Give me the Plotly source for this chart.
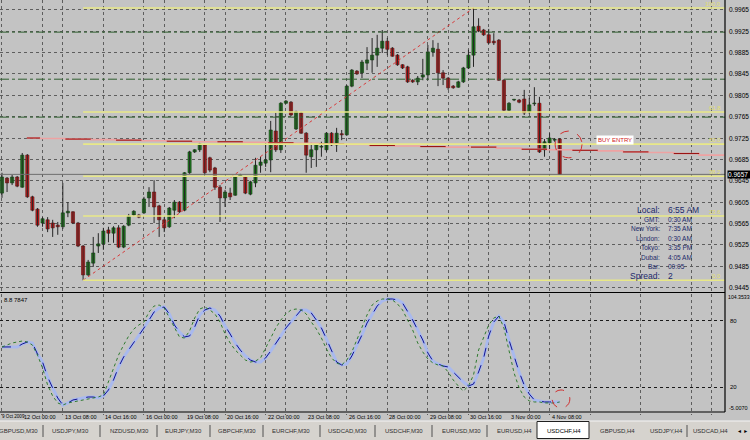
import plotly.graph_objects as go

# ---------------- data (H4 candles, index 0..110) ----------------
opens = [0.9622, 0.9650, 0.9641, 0.9652, 0.9633, 0.9693, 0.9615, 0.9592, 0.9566, 0.9572,
         0.9566, 0.9562, 0.9559, 0.9585, 0.9587, 0.9566, 0.9523, 0.9469, 0.9491, 0.9523,
         0.9527, 0.9553, 0.9547, 0.9557, 0.9521, 0.9562, 0.9581, 0.9581, 0.9585, 0.9613,
         0.9624, 0.9598, 0.9572, 0.9559, 0.9590, 0.9605, 0.9590, 0.9660, 0.9699, 0.9703,
         0.9712, 0.9688, 0.9669, 0.9633, 0.9613, 0.9622, 0.9618, 0.9654, 0.9652, 0.9620,
         0.9641, 0.9674, 0.9678, 0.9684, 0.9738, 0.9703, 0.9790, 0.9792, 0.9742, 0.9772,
         0.9734, 0.9690, 0.9703, 0.9708, 0.9703, 0.9734, 0.9712, 0.9733, 0.9731, 0.9822,
         0.9850, 0.9847, 0.9865, 0.9871, 0.9880, 0.9893, 0.9906, 0.9893, 0.9880, 0.9862,
         0.9858, 0.9833, 0.9830, 0.9839, 0.9843, 0.9886, 0.9891, 0.9847, 0.9837, 0.9822,
         0.9820, 0.9830, 0.9856, 0.9880, 0.9934, 0.9927, 0.9918, 0.9906, 0.9908, 0.9833,
         0.9777, 0.9796, 0.9796, 0.9798, 0.9774, 0.9789, 0.9790, 0.9703, 0.9716, 0.9721,
         0.9723]
highs = [0.9660, 0.9652, 0.9656, 0.9654, 0.9697, 0.9695, 0.9617, 0.9594, 0.9577, 0.9577,
         0.9572, 0.9568, 0.9641, 0.9605, 0.9588, 0.9568, 0.9525, 0.9497, 0.9540, 0.9547,
         0.9557, 0.9559, 0.9560, 0.9562, 0.9562, 0.9583, 0.9590, 0.9583, 0.9615, 0.9633,
         0.9646, 0.9600, 0.9577, 0.9596, 0.9609, 0.9607, 0.9661, 0.9701, 0.9704, 0.9716,
         0.9714, 0.9690, 0.9671, 0.9637, 0.9628, 0.9632, 0.9654, 0.9658, 0.9654, 0.9645,
         0.9688, 0.9690, 0.9716, 0.9757, 0.9772, 0.9792, 0.9796, 0.9794, 0.9776, 0.9774,
         0.9736, 0.9716, 0.9714, 0.9718, 0.9736, 0.9736, 0.9744, 0.9740, 0.9824, 0.9854,
         0.9852, 0.9871, 0.9895, 0.9912, 0.9918, 0.9927, 0.9912, 0.9895, 0.9882, 0.9863,
         0.9860, 0.9835, 0.9841, 0.9873, 0.9899, 0.9908, 0.9903, 0.9852, 0.9839, 0.9824,
         0.9832, 0.9858, 0.9890, 0.9968, 0.9949, 0.9929, 0.9929, 0.9921, 0.9910, 0.9835,
         0.9792, 0.9798, 0.9798, 0.9815, 0.9800, 0.9820, 0.9802, 0.9723, 0.9734, 0.9725,
         0.9725]
lows = [0.9613, 0.9624, 0.9637, 0.9633, 0.9632, 0.9613, 0.9588, 0.9559, 0.9559, 0.9549,
        0.9540, 0.9544, 0.9555, 0.9577, 0.9564, 0.9521, 0.9459, 0.9467, 0.9484, 0.9510,
        0.9516, 0.9530, 0.9529, 0.9519, 0.9519, 0.9560, 0.9579, 0.9575, 0.9583, 0.9596,
        0.9566, 0.9540, 0.9549, 0.9557, 0.9575, 0.9585, 0.9588, 0.9658, 0.9697, 0.9699,
        0.9656, 0.9661, 0.9628, 0.9568, 0.9596, 0.9609, 0.9617, 0.9652, 0.9620, 0.9618,
        0.9633, 0.9660, 0.9671, 0.9661, 0.9699, 0.9697, 0.9789, 0.9766, 0.9740, 0.9733,
        0.9660, 0.9669, 0.9671, 0.9690, 0.9699, 0.9710, 0.9699, 0.9721, 0.9729, 0.9820,
        0.9843, 0.9837, 0.9852, 0.9847, 0.9858, 0.9884, 0.9880, 0.9877, 0.9860, 0.9854,
        0.9828, 0.9828, 0.9824, 0.9833, 0.9833, 0.9877, 0.9822, 0.9824, 0.9815, 0.9817,
        0.9819, 0.9828, 0.9854, 0.9858, 0.9923, 0.9916, 0.9901, 0.9899, 0.9832, 0.9776,
        0.9776, 0.9794, 0.9790, 0.9768, 0.9770, 0.9785, 0.9697, 0.9690, 0.9703, 0.9718,
        0.9656]
closes = [0.9652, 0.9641, 0.9652, 0.9635, 0.9693, 0.9615, 0.9590, 0.9562, 0.9574, 0.9555,
          0.9557, 0.9559, 0.9585, 0.9588, 0.9566, 0.9523, 0.9469, 0.9493, 0.9510, 0.9527,
          0.9551, 0.9547, 0.9557, 0.9521, 0.9560, 0.9579, 0.9588, 0.9577, 0.9611, 0.9624,
          0.9596, 0.9572, 0.9557, 0.9594, 0.9605, 0.9587, 0.9660, 0.9699, 0.9703, 0.9714,
          0.9660, 0.9665, 0.9633, 0.9613, 0.9624, 0.9615, 0.9652, 0.9656, 0.9622, 0.9643,
          0.9674, 0.9680, 0.9684, 0.9740, 0.9703, 0.9790, 0.9794, 0.9768, 0.9774, 0.9734,
          0.9693, 0.9703, 0.9712, 0.9709, 0.9734, 0.9712, 0.9734, 0.9731, 0.9822, 0.9852,
          0.9845, 0.9867, 0.9871, 0.9880, 0.9893, 0.9906, 0.9891, 0.9878, 0.9862, 0.9856,
          0.9830, 0.9830, 0.9837, 0.9843, 0.9886, 0.9893, 0.9847, 0.9837, 0.9819, 0.9819,
          0.9830, 0.9856, 0.9880, 0.9933, 0.9925, 0.9918, 0.9903, 0.9903, 0.9833, 0.9777,
          0.9790, 0.9797, 0.9792, 0.9772, 0.9787, 0.9790, 0.9699, 0.9718, 0.9725, 0.9721,
          0.9657]

# stochastic-type oscillator (green = fast, blue = slow)
osc_fast = [56.4, 58.2, 60.0, 60.9, 61.8, 60.9, 58.2, 49.1, 37.3, 21.8,
            11.8, 5.5, 3.6, 5.5, 6.4, 7.3, 8.2, 9.1, 10.0, 10.9,
            12.7, 24.5, 37.3, 49.1, 58.2, 66.4, 72.7, 76.4, 79.1, 88.2,
            93.6, 94.5, 91.8, 82.7, 73.6, 65.5, 64.5, 70.9, 82.7, 90.9,
            92.7, 90.0, 86.4, 79.1, 68.2, 60.0, 53.6, 49.1, 44.5, 42.7,
            43.6, 46.4, 55.5, 64.5, 73.6, 80.9, 86.4, 90.0, 90.9, 90.0,
            86.4, 79.1, 72.7, 64.5, 54.5, 46.4, 41.8, 40.0, 44.5, 51.8,
            62.7, 74.5, 85.5, 94.5, 98.2, 100.0, 100.0, 99.1, 95.5, 90.0,
            80.9, 71.8, 60.0, 51.8, 45.5, 41.8, 40.0, 39.1, 33.6, 26.4,
            20.9, 16.4, 20.9, 30.9, 53.6, 64.5, 76.4, 82.7, 84.5, 73.6,
            53.6, 32.7, 19.1, 10.9, 7.3, 6.4, 6.4, 5.5, 5.5, 5.5,
            6.4]
osc_slow = [56.4, 56.4, 56.4, 56.4, 59.1, 60.9, 60.0, 50.0, 42.7, 29.1,
            19.1, 10.0, 3.6, 5.5, 8.2, 9.1, 10.0, 10.9, 10.9, 10.0,
            11.8, 17.3, 26.4, 38.2, 47.3, 53.6, 60.9, 67.3, 73.6, 80.9,
            88.2, 91.8, 92.7, 86.4, 76.4, 70.0, 65.5, 66.4, 74.5, 85.5,
            90.0, 91.8, 90.0, 84.5, 75.5, 68.2, 60.0, 53.6, 48.2, 44.5,
            42.7, 42.7, 46.4, 52.7, 59.1, 66.4, 73.6, 79.1, 85.5, 90.0,
            90.0, 87.3, 80.9, 73.6, 63.6, 53.6, 42.7, 40.0, 40.9, 48.2,
            57.3, 67.3, 78.2, 85.5, 93.6, 98.2, 100.0, 100.0, 99.1, 96.4,
            89.1, 80.9, 71.8, 62.7, 50.9, 43.6, 40.9, 39.1, 38.2, 33.6,
            29.1, 24.5, 20.9, 22.7, 33.6, 46.4, 66.4, 79.1, 84.5, 79.1,
            62.7, 47.3, 33.6, 21.8, 13.6, 8.2, 7.3, 6.4, 6.4, 6.4,
            6.4]

# higher-timeframe moving average (stepped, extends into the shifted area)
ma_start = 4.9
ma_step = 5
ma_first_break = 7.5
ma_values = [0.9725, 0.9724, 0.9723, 0.9722, 0.9721, 0.9720, 0.9719, 0.9718, 0.9718, 0.9717,
             0.9716, 0.9715, 0.9714, 0.9713, 0.9711, 0.9710, 0.9709, 0.9708, 0.9708, 0.9706,
             0.9704, 0.9703, 0.9702, 0.9701, 0.9699, 0.9698, 0.9696, 0.9693]

fib_low_idx, fib_high_idx = 16, 93
fib_levels = [0.0, 23.6, 38.2, 50.0, 61.8, 100.0]
pivot_levels = [0.9923, 0.9835, 0.9764]
current_price = 0.9657

price_ticks = [0.9965, 0.9925, 0.9885, 0.9845, 0.9805, 0.9765, 0.9725, 0.9685,
               0.9645, 0.9605, 0.9565, 0.9525, 0.9485, 0.9445]
price_tick_text = ["0.9965", "0.9925", "0.9885", "0.9845", "0.9805", "0.9765", "0.9725", "0.9685",
                   "0.9645", "0.9605", "0.9565", "0.9525", "0.9485", "0.9445"]
grid_idx = [0, 8, 12, 20, 28, 32, 40, 44, 52, 56, 64, 68, 76, 84, 88, 92, 96,
            104, 108, 116, 126, 136, 140]
first_date_label = "9 Oct 2009"
date_idx = [4, 12, 20, 28, 36, 44, 52, 60, 68, 76, 84, 92, 100, 108]
date_labels = ["12 Oct 00:00", "13 Oct 08:00", "14 Oct 16:00", "16 Oct 00:00", "19 Oct 08:00",
               "20 Oct 16:00", "22 Oct 00:00", "23 Oct 08:00", "26 Oct 16:00", "28 Oct 00:00",
               "29 Oct 08:00", "30 Oct 16:00", "3 Nov 00:00", "4 Nov 08:00"]
osc_ticks = [80, 20]
osc_top_label, osc_bottom_label = "104.3533", "-5.0070"
osc_name = "8.8 7847"

clock_names = ["Local:", "GMT:", "New York:", "London:", "Tokyo:", "Dubai:", "Bar:", "Spread:"]
clock_values = ["6:55 AM", "0:30 AM", "7:35 AM", "0:30 AM", "3:35 PM", "4:05 AM", "00:05", "2"]

tabs = ["GBPUSD,M30", "USDJPY,M30", "NZDUSD,M30", "EURJPY,M30", "GBPCHF,M30", "EURCHF,M30",
        "USDCAD,M30", "USDCHF,M30", "EURUSD,M30", "EURUSD,H4", "USDCHF,H4", "GBPUSD,H4",
        "USDJPY,H4", "USDCAD,H4"]
active_tab = "USDCHF,H4"

# ---------------- layout helpers ----------------
W, H = 750, 440
FONT = "Liberation Sans, Arial, sans-serif"
BG = "#c3c3c3"


def px(x):
    return x / W


def py(y):
    return 1 - y / H


X_RANGE = [-0.39, 142.6]
P_RANGE = [0.94370, 0.99831]
O_RANGE = [-5.0, 104.35]
PLOT_RIGHT = 725

fig = go.Figure()
n = len(opens)
idx = list(range(n))

# wicks
wx, wy = [], []
for i in idx:
    wx += [i, i, None]
    wy += [lows[i], highs[i], None]
fig.add_trace(go.Scatter(x=wx, y=wy, mode="lines", line=dict(color="#262626", width=1),
                         hoverinfo="skip", showlegend=False, xaxis="x", yaxis="y"))

# bodies
for up, col, edge in [(True, "#1f7e1f", "#0e3d0e"), (False, "#c81e1e", "#5a0a0a")]:
    bx, bb, bh = [], [], []
    for i in idx:
        if (closes[i] >= opens[i]) == up:
            bx.append(i)
            bb.append(min(opens[i], closes[i]))
            bh.append(max(abs(closes[i] - opens[i]), 0.00014))
    fig.add_trace(go.Bar(x=bx, base=bb, y=bh, width=0.62,
                         marker=dict(color=col, line=dict(color=edge, width=0.6)),
                         hoverinfo="skip", showlegend=False, xaxis="x", yaxis="y"))

# moving average (pink band with dark red steps)
ma_x, ma_y = [ma_start], [ma_values[0]]
for k in range(1, len(ma_values)):
    ma_x.append(ma_first_break + (k - 1) * ma_step)
    ma_y.append(ma_values[k])
ma_x.append(ma_first_break + (len(ma_values) - 1) * ma_step)
ma_y.append(ma_values[-1])
fig.add_trace(go.Scatter(x=ma_x, y=ma_y, mode="lines", line=dict(color="#eea2a2", width=1.6, shape="hv"),
                         hoverinfo="skip", showlegend=False, xaxis="x", yaxis="y"))
dx, dy = [], []
for k in range(len(ma_values)):
    if k % 2 == 0:
        x0 = ma_start if k == 0 else ma_first_break + (k - 1) * ma_step
        x1 = ma_first_break + k * ma_step
        dx += [x0, x1, None]
        dy += [ma_values[k], ma_values[k], None]
fig.add_trace(go.Scatter(x=dx, y=dy, mode="lines", line=dict(color="#9a1414", width=1.1),
                         hoverinfo="skip", showlegend=False, xaxis="x", yaxis="y"))

# fibonacci anchor trend line (red dotted)
fig.add_trace(go.Scatter(x=[fib_low_idx, fib_high_idx], y=[lows[fib_low_idx], highs[fib_high_idx]],
                         mode="lines", line=dict(color="#d83c3c", width=1, dash="dot"),
                         hoverinfo="skip", showlegend=False, xaxis="x", yaxis="y"))

# oscillator
fig.add_trace(go.Scatter(x=idx, y=osc_slow, mode="lines", line=dict(color="#a9b9ee", width=3),
                         hoverinfo="skip", showlegend=False, xaxis="x2", yaxis="y2"))
fig.add_trace(go.Scatter(x=idx, y=osc_slow, mode="lines", line=dict(color="#14148c", width=1, dash="dash"),
                         hoverinfo="skip", showlegend=False, xaxis="x2", yaxis="y2"))
fig.add_trace(go.Scatter(x=idx, y=osc_fast, mode="lines", line=dict(color="#2f7a2f", width=1, dash="dot"),
                         hoverinfo="skip", showlegend=False, xaxis="x2", yaxis="y2"))

shapes = []
annotations = []

# tab bar background
shapes.append(dict(type="rect", xref="paper", yref="paper", x0=0, x1=1, y0=0, y1=py(421),
                   fillcolor="#d6d3ce", line=dict(width=0), layer="below"))
shapes.append(dict(type="line", xref="paper", yref="paper", x0=0, x1=1, y0=py(421), y1=py(421),
                   line=dict(color="#f4f4f4", width=1)))

# fibonacci levels
lo, hi = lows[fib_low_idx], highs[fib_high_idx]
for lv in fib_levels:
    p = lo + (hi - lo) * lv / 100.0
    shapes.append(dict(type="line", xref="x", yref="y", x0=fib_low_idx, x1=X_RANGE[1], y0=p, y1=p,
                       line=dict(color="#e8e888", width=1.6)))
    annotations.append(dict(xref="paper", yref="y", x=px(723), y=p, text="%.1f" % lv, showarrow=False,
                            xanchor="right", yanchor="bottom", yshift=-1,
                            font=dict(family=FONT, size=6, color="#e4e070")))

# pivot-like dash-dot lines
for p in pivot_levels:
    shapes.append(dict(type="line", xref="x", yref="y", x0=X_RANGE[0], x1=X_RANGE[1], y0=p, y1=p,
                       line=dict(color="#2f5f2f", width=1, dash="dashdot")))

# current price line
shapes.append(dict(type="line", xref="x", yref="y", x0=X_RANGE[0], x1=X_RANGE[1],
                   y0=current_price, y1=current_price, line=dict(color="#6e6e6e", width=1)))

# circles
shapes.append(dict(type="circle", xref="x", yref="y", x0=109.1, x1=114.4, y0=0.9688, y1=0.9738,
                   line=dict(color="#d03030", width=1, dash="dash")))
shapes.append(dict(type="circle", xref="x2", yref="y2", x0=108.5, x1=112.0, y0=0.9, y1=17.3,
                   line=dict(color="#d03030", width=1, dash="dash")))

# panel borders
shapes.append(dict(type="line", xref="paper", yref="paper", x0=px(PLOT_RIGHT), x1=px(PLOT_RIGHT),
                   y0=py(412), y1=1, line=dict(color="#000000", width=1.2)))
for yb in [292.5, 412]:
    shapes.append(dict(type="line", xref="paper", yref="paper", x0=0, x1=px(PLOT_RIGHT),
                       y0=py(yb), y1=py(yb), line=dict(color="#000000", width=1.2)))

# price axis labels
for pv, pt in zip(price_ticks, price_tick_text):
    annotations.append(dict(xref="paper", yref="y", x=px(727), y=pv, text=pt, showarrow=False,
                            xanchor="left", yanchor="middle",
                            font=dict(family=FONT, size=6.5, color="#000000")))

# BUY ENTRY label
annotations.append(dict(xref="x", yref="y", x=117.2, y=0.9721, text="BUY ENTRY", showarrow=False,
                        xanchor="left", yanchor="middle", bgcolor="#ffffff", borderpad=1,
                        font=dict(family=FONT, size=6, color="#d02020")))

# current price box
annotations.append(dict(xref="paper", yref="y", x=px(726.5), y=current_price, text="0.9657 ",
                        showarrow=False, xanchor="left", yanchor="middle", bgcolor="#000000",
                        borderpad=0, font=dict(family=FONT, size=6.5, color="#ffffff")))

# oscillator labels
annotations.append(dict(xref="paper", yref="paper", x=px(2), y=py(295), text=osc_name, showarrow=False,
                        xanchor="left", yanchor="top", font=dict(family=FONT, size=6, color="#000000")))
annotations.append(dict(xref="paper", yref="paper", x=px(726), y=py(297), text=osc_top_label,
                        showarrow=False, xanchor="left", yanchor="middle",
                        font=dict(family=FONT, size=5.2, color="#000000")))
annotations.append(dict(xref="paper", yref="paper", x=px(727), y=py(408), text=osc_bottom_label,
                        showarrow=False, xanchor="left", yanchor="middle",
                        font=dict(family=FONT, size=5.5, color="#000000")))
for ov in osc_ticks:
    annotations.append(dict(xref="paper", yref="y2", x=px(728), y=ov, text=str(ov), showarrow=False,
                            xanchor="left", yanchor="middle",
                            font=dict(family=FONT, size=6, color="#000000")))

# date labels
annotations.append(dict(xref="paper", yref="paper", x=px(0), y=py(416.5), text=first_date_label,
                        showarrow=False, xanchor="left", yanchor="middle",
                        font=dict(family=FONT, size=4.6, color="#000000")))
for di, lab in zip(date_idx, date_labels):
    annotations.append(dict(xref="x2", yref="paper", x=di, y=py(416.5), text=lab, showarrow=False,
                            xanchor="left", yanchor="middle",
                            font=dict(family=FONT, size=5.5, color="#000000")))

# clock block
for k, (nm, val) in enumerate(zip(clock_names, clock_values)):
    yy = 210 + k * 9.4
    big = k == 0 or k == len(clock_names) - 1
    annotations.append(dict(xref="paper", yref="paper", x=px(662), y=py(yy), text=nm, showarrow=False,
                            xanchor="right", yanchor="middle",
                            font=dict(family=FONT, size=8.5 if big else 6.5, color="#1c2a6a")))
    annotations.append(dict(xref="paper", yref="paper", x=px(666), y=py(yy), text=val, showarrow=False,
                            xanchor="left", yanchor="middle",
                            font=dict(family=FONT, size=8.5 if big else 6.5, color="#1c2a6a")))

# tabs
tab_x = [-3, 50, 108, 163, 216, 270, 326, 383, 440, 495, 545, 598, 648, 691]
for tx, t in zip(tab_x, tabs):
    active = t == active_tab
    if active:
        shapes.append(dict(type="rect", xref="paper", yref="paper", x0=px(537), x1=px(589),
                           y0=py(438.5), y1=py(421.5), fillcolor="#ffffff",
                           line=dict(color="#202020", width=1)))
    annotations.append(dict(xref="paper", yref="paper", x=px(tx), y=py(431), text=t, showarrow=False,
                            xanchor="left", yanchor="middle",
                            font=dict(family=FONT, size=6, color="#000000" if active else "#303030")))
for sx in [43, 100, 157, 210, 263, 320, 375, 432, 487, 687]:
    shapes.append(dict(type="line", xref="paper", yref="paper", x0=px(sx), x1=px(sx),
                       y0=py(437), y1=py(425), line=dict(color="#505050", width=1)))
annotations.append(dict(xref="paper", yref="paper", x=px(742), y=py(431), text="\u25c4 \u25ba",
                        showarrow=False, xanchor="center", yanchor="middle",
                        font=dict(family=FONT, size=5, color="#000000")))

grid_style = dict(showgrid=True, gridcolor="#5e5e5e", gridwidth=1, griddash="dot", zeroline=False)

fig.update_layout(
    width=W, height=H, margin=dict(l=0, r=0, t=0, b=0),
    paper_bgcolor=BG, plot_bgcolor=BG, barmode="overlay", showlegend=False,
    shapes=shapes, annotations=annotations,
    xaxis=dict(domain=[0, px(PLOT_RIGHT)], range=X_RANGE, tickvals=grid_idx, showticklabels=False,
               ticks="", anchor="y", **grid_style),
    yaxis=dict(domain=[py(292), 1], range=P_RANGE, side="right", tickvals=price_ticks,
               showticklabels=False, ticks="", anchor="x", **grid_style),
    xaxis2=dict(domain=[0, px(PLOT_RIGHT)], range=X_RANGE, tickvals=grid_idx, showticklabels=False,
                ticks="", anchor="y2", **grid_style),
    yaxis2=dict(domain=[py(414.5), py(294.2)], range=O_RANGE, side="right", tickvals=osc_ticks,
                showticklabels=False, ticks="", anchor="x2",
                showgrid=True, gridcolor="#1a1a1a", gridwidth=1, griddash="dot", zeroline=False),
)

fig.write_html("out.html", config={"displayModeBar": False},
               post_script="document.body.style.margin='0';document.body.style.padding='0';"
                           "document.body.style.overflow='hidden';")
